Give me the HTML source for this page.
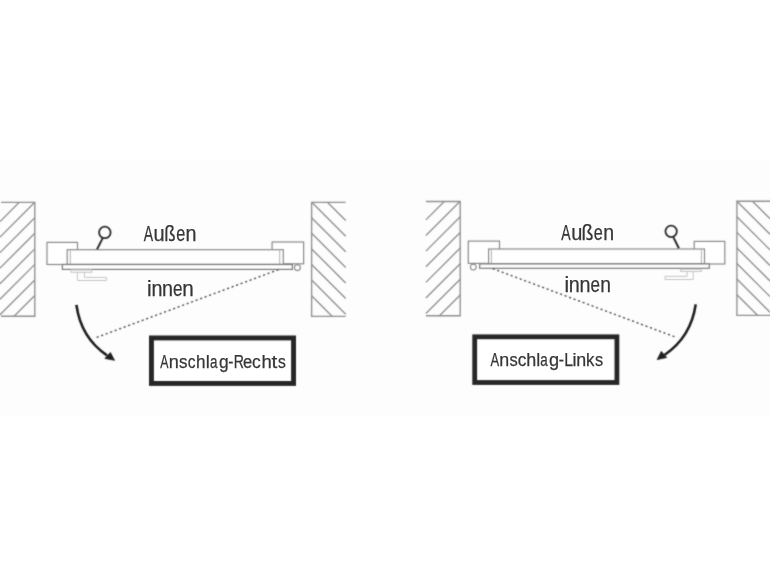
<!DOCTYPE html>
<html><head><meta charset="utf-8"><title>Anschlag</title>
<style>html,body{margin:0;padding:0;background:#fff;}body{width:770px;height:578px;overflow:hidden;font-family:"Liberation Sans",sans-serif;}svg{display:block;will-change:transform;}</style>
</head><body><svg width="770" height="578" viewBox="0 0 770 578"><defs><filter id="bl" x="0" y="0" width="770" height="578" filterUnits="userSpaceOnUse" color-interpolation-filters="sRGB"><feConvolveMatrix order="3" kernelMatrix="1 2 1 2 12 2 1 2 1" edgeMode="duplicate"/></filter></defs><rect width="770" height="578" fill="#fff"/><g filter="url(#bl)"><rect x="0" y="160" width="770" height="256" fill="#fdfdfd"/><g stroke="#909090" stroke-width="1.35" fill="none"><path d="M1 202.3H34.8V316.2H1" /><line x1="0.00" y1="221.58" x2="19.28" y2="202.30"/><line x1="0.00" y1="237.10" x2="34.80" y2="202.30"/><line x1="0.00" y1="252.62" x2="34.80" y2="217.82"/><line x1="0.00" y1="268.14" x2="34.80" y2="233.34"/><line x1="0.00" y1="283.66" x2="34.80" y2="248.86"/><line x1="0.00" y1="299.18" x2="34.80" y2="264.38"/><line x1="0.00" y1="314.70" x2="34.80" y2="279.90"/><line x1="14.02" y1="316.20" x2="34.80" y2="295.42"/><path d="M345.7 202.3H311.6V316.4H345.7" /><line x1="327.40" y1="202.30" x2="345.70" y2="220.60"/><line x1="311.80" y1="202.30" x2="345.70" y2="236.20"/><line x1="311.60" y1="217.70" x2="345.70" y2="251.80"/><line x1="311.60" y1="233.30" x2="345.70" y2="267.40"/><line x1="311.60" y1="248.90" x2="345.70" y2="283.00"/><line x1="311.60" y1="264.50" x2="345.70" y2="298.60"/><line x1="311.60" y1="280.10" x2="345.70" y2="314.20"/><line x1="311.60" y1="295.70" x2="332.30" y2="316.40"/><path d="M425.9 201.5H460.2V315.7H425.9" /><line x1="425.90" y1="219.88" x2="444.28" y2="201.50"/><line x1="425.90" y1="235.50" x2="459.90" y2="201.50"/><line x1="425.90" y1="251.12" x2="460.20" y2="216.82"/><line x1="425.90" y1="266.74" x2="460.20" y2="232.44"/><line x1="425.90" y1="282.36" x2="460.20" y2="248.06"/><line x1="425.90" y1="297.98" x2="460.20" y2="263.68"/><line x1="425.90" y1="313.60" x2="460.20" y2="279.30"/><line x1="439.42" y1="315.70" x2="460.20" y2="294.92"/><path d="M770 201.2H736.9V315.3H770" /><line x1="752.48" y1="201.20" x2="770.00" y2="218.72"/><line x1="736.90" y1="201.20" x2="770.00" y2="234.30"/><line x1="736.90" y1="216.78" x2="770.00" y2="249.88"/><line x1="736.90" y1="232.36" x2="770.00" y2="265.46"/><line x1="736.90" y1="247.94" x2="770.00" y2="281.04"/><line x1="736.90" y1="263.52" x2="770.00" y2="296.62"/><line x1="736.90" y1="279.10" x2="770.00" y2="312.20"/><line x1="736.90" y1="294.68" x2="757.52" y2="315.30"/></g><rect x="47" y="242.4" width="30.5" height="22.1" fill="#fff" stroke="#8a8a8a" stroke-width="1.2"/><rect x="272.1" y="242" width="31.5" height="21.8" fill="#fff" stroke="#8a8a8a" stroke-width="1.2"/><rect x="67.2" y="249.7" width="216.1" height="14.7" fill="#fff" stroke="#8a8a8a" stroke-width="1.2"/><path d="M70.3 250.3V264M279.7 250.3V264" stroke="#b0b0b0" stroke-width="1"/><rect x="62.4" y="264.5" width="230" height="4.9" fill="#fff" stroke="#7a7a7a" stroke-width="1.2"/><circle cx="297.4" cy="267.6" r="3" fill="#fff" stroke="#8a8a8a" stroke-width="1.1"/><g fill="none" stroke="#c4c4c4" stroke-width="1"><rect x="71" y="269.9" width="20.8" height="2.4"/><path d="M77.4 272.3V280.5H106.4V277.4H84.5V272.3"/></g><g stroke="#2a2a2a" fill="none"><circle cx="104.85" cy="232.45" r="5.75" stroke-width="1.8"/><path d="M102.7 238.1L97 249.4" stroke-width="2"/></g><path d="M278 269.8L95.1 338" stroke="#575757" stroke-width="1.5" stroke-dasharray="0.9 3.9" stroke-linecap="round"/><path d="M76.4 304.9Q81 338 107 355.3" stroke="#1e1e1e" stroke-width="2.6" fill="none"/><path d="M114.5 360.3L104.9 358.4L110.4 352.5Z" fill="#1e1e1e" stroke="#1e1e1e" stroke-width="0.8" stroke-linejoin="round"/><rect x="694.2" y="241.4" width="30.6" height="22.6" fill="#fff" stroke="#8a8a8a" stroke-width="1.2"/><rect x="468.3" y="241.1" width="31.2" height="22.3" fill="#fff" stroke="#8a8a8a" stroke-width="1.2"/><rect x="488.6" y="249" width="215.9" height="14.6" fill="#fff" stroke="#8a8a8a" stroke-width="1.2"/><path d="M491.4 249.6V263M701.4 249.6V263" stroke="#b0b0b0" stroke-width="1"/><rect x="479.7" y="263.9" width="229.6" height="4.4" fill="#fff" stroke="#7a7a7a" stroke-width="1.2"/><circle cx="473.3" cy="267.1" r="2.9" fill="#fff" stroke="#8a8a8a" stroke-width="1.1"/><g fill="none" stroke="#c4c4c4" stroke-width="1"><rect x="680.7" y="269.3" width="20.6" height="2.2"/><path d="M693.2 271.5V279.5H665V276.3H687.1V271.5"/></g><g stroke="#2a2a2a" fill="none"><circle cx="671.15" cy="231.35" r="5.7" stroke-width="1.8"/><path d="M673.3 237.1L678.9 248.3" stroke-width="2"/></g><path d="M493.2 268.8L676.3 337.4" stroke="#575757" stroke-width="1.5" stroke-dasharray="0.9 3.9" stroke-linecap="round"/><path d="M695.7 304.4Q691 337 664.5 355" stroke="#1e1e1e" stroke-width="2.6" fill="none"/><path d="M657.2 359.6L661.3 351.4L666.7 357.5Z" fill="#1e1e1e" stroke="#1e1e1e" stroke-width="0.8" stroke-linejoin="round"/><rect x="151.45" y="337.95" width="142.10" height="45.50" fill="#fff" stroke="#262626" stroke-width="4.9"/><rect x="474.70" y="336.80" width="142.20" height="45.70" fill="#fff" stroke="#262626" stroke-width="4.8"/></g><g fill="#363636" stroke="#363636" stroke-width="0.25" font-family="Liberation Sans, sans-serif"><text y="240.7" font-size="21.2"><tspan x="143.72" textLength="9.35" lengthAdjust="spacingAndGlyphs">A</tspan><tspan x="153.55" textLength="11.13" lengthAdjust="spacingAndGlyphs">u</tspan><tspan x="164.36" textLength="11.35" lengthAdjust="spacingAndGlyphs">&#223;</tspan><tspan x="176.16" textLength="9.01" lengthAdjust="spacingAndGlyphs">e</tspan><tspan x="185.54" textLength="11.00" lengthAdjust="spacingAndGlyphs">n</tspan></text><text y="240.0" font-size="21.2"><tspan x="561.32" textLength="9.35" lengthAdjust="spacingAndGlyphs">A</tspan><tspan x="571.15" textLength="11.13" lengthAdjust="spacingAndGlyphs">u</tspan><tspan x="581.49" textLength="11.96" lengthAdjust="spacingAndGlyphs">&#223;</tspan><tspan x="593.86" textLength="9.01" lengthAdjust="spacingAndGlyphs">e</tspan><tspan x="603.35" textLength="10.87" lengthAdjust="spacingAndGlyphs">n</tspan></text><text y="296.0" font-size="22"><tspan x="147.03" textLength="4.64" lengthAdjust="spacingAndGlyphs">i</tspan><tspan x="151.44" textLength="11.00" lengthAdjust="spacingAndGlyphs">n</tspan><tspan x="162.04" textLength="11.00" lengthAdjust="spacingAndGlyphs">n</tspan><tspan x="173.03" textLength="9.48" lengthAdjust="spacingAndGlyphs">e</tspan><tspan x="182.37" textLength="11.52" lengthAdjust="spacingAndGlyphs">n</tspan></text><text y="292.3" font-size="22"><tspan x="564.43" textLength="4.64" lengthAdjust="spacingAndGlyphs">i</tspan><tspan x="568.84" textLength="11.00" lengthAdjust="spacingAndGlyphs">n</tspan><tspan x="579.44" textLength="11.00" lengthAdjust="spacingAndGlyphs">n</tspan><tspan x="590.53" textLength="9.48" lengthAdjust="spacingAndGlyphs">e</tspan><tspan x="600.17" textLength="10.74" lengthAdjust="spacingAndGlyphs">n</tspan></text><text y="367.8" font-size="19.2"><tspan x="160.33" textLength="8.25" lengthAdjust="spacingAndGlyphs">A</tspan><tspan x="168.75" textLength="10.08" lengthAdjust="spacingAndGlyphs">n</tspan><tspan x="178.98" textLength="8.49" lengthAdjust="spacingAndGlyphs">s</tspan><tspan x="187.69" textLength="7.77" lengthAdjust="spacingAndGlyphs">c</tspan><tspan x="196.07" textLength="9.49" lengthAdjust="spacingAndGlyphs">h</tspan><tspan x="205.72" textLength="4.05" lengthAdjust="spacingAndGlyphs">l</tspan><tspan x="209.98" textLength="7.47" lengthAdjust="spacingAndGlyphs">a</tspan><tspan x="218.92" textLength="9.65" lengthAdjust="spacingAndGlyphs">g</tspan><tspan x="228.36" textLength="5.18" lengthAdjust="spacingAndGlyphs">-</tspan><tspan x="233.69" textLength="10.22" lengthAdjust="spacingAndGlyphs">R</tspan><tspan x="243.04" textLength="9.24" lengthAdjust="spacingAndGlyphs">e</tspan><tspan x="252.01" textLength="8.70" lengthAdjust="spacingAndGlyphs">c</tspan><tspan x="261.47" textLength="10.28" lengthAdjust="spacingAndGlyphs">h</tspan><tspan x="271.44" textLength="5.77" lengthAdjust="spacingAndGlyphs">t</tspan><tspan x="277.92" textLength="7.80" lengthAdjust="spacingAndGlyphs">s</tspan></text><text y="366.1" font-size="19.0"><tspan x="490.52" textLength="8.65" lengthAdjust="spacingAndGlyphs">A</tspan><tspan x="499.36" textLength="9.95" lengthAdjust="spacingAndGlyphs">n</tspan><tspan x="509.59" textLength="8.26" lengthAdjust="spacingAndGlyphs">s</tspan><tspan x="517.82" textLength="8.58" lengthAdjust="spacingAndGlyphs">c</tspan><tspan x="526.20" textLength="10.02" lengthAdjust="spacingAndGlyphs">h</tspan><tspan x="536.24" textLength="4.01" lengthAdjust="spacingAndGlyphs">l</tspan><tspan x="540.18" textLength="7.47" lengthAdjust="spacingAndGlyphs">a</tspan><tspan x="548.88" textLength="10.14" lengthAdjust="spacingAndGlyphs">g</tspan><tspan x="558.76" textLength="5.18" lengthAdjust="spacingAndGlyphs">-</tspan><tspan x="564.15" textLength="8.83" lengthAdjust="spacingAndGlyphs">L</tspan><tspan x="572.55" textLength="4.01" lengthAdjust="spacingAndGlyphs">i</tspan><tspan x="576.36" textLength="9.95" lengthAdjust="spacingAndGlyphs">n</tspan><tspan x="586.02" textLength="8.41" lengthAdjust="spacingAndGlyphs">k</tspan><tspan x="594.90" textLength="8.14" lengthAdjust="spacingAndGlyphs">s</tspan></text></g></svg></body></html>
